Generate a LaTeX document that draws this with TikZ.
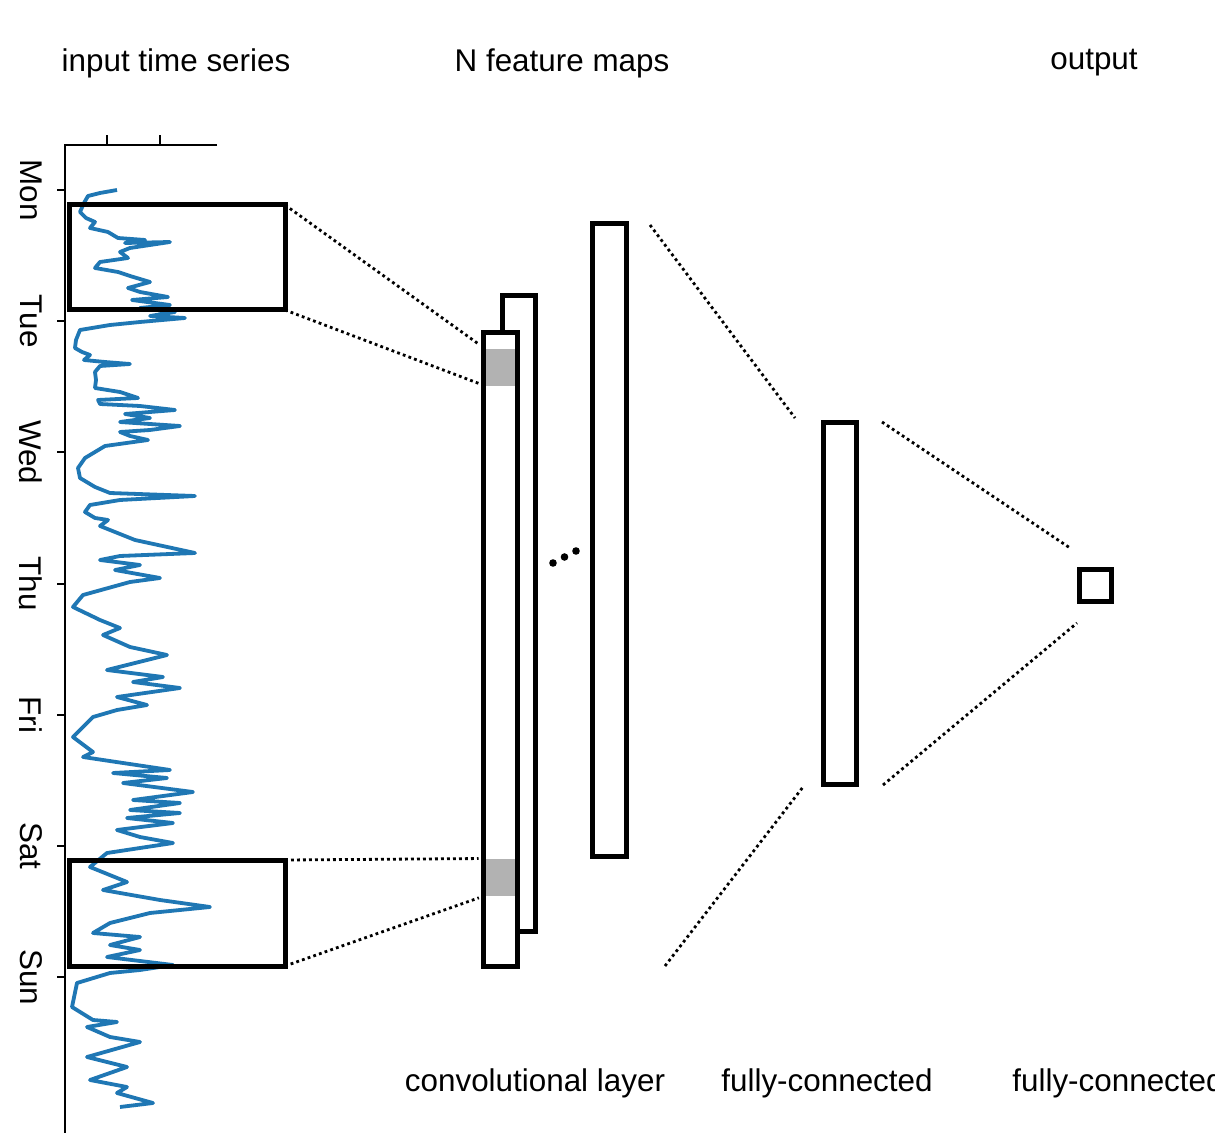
\documentclass[tikz,border=0pt]{standalone}
\usepackage{fontspec}
\setmainfont{Liberation Sans}
\definecolor{seriesblue}{RGB}{31,119,180}
\definecolor{cellgray}{RGB}{178,178,178}

\tikzset{
  conn/.style={line width=1.4pt, dash pattern=on 1.4pt off 1.6pt},
  toconv/.style={conn, shorten >=3.5pt},
  lbl/.style={font=\fontsize{15.7}{18}\selectfont, inner sep=0pt}
}

\begin{document}
\begin{tikzpicture}[x=0.5pt,y=-0.5pt]
    \path[use as bounding box, fill=white] (0,0) rectangle (1215,1133);

    % axis of the input series
    \draw[line width=1pt] (217,145) -- (65,145) -- (65,1133);
    \foreach \tx in {107,160}
      \draw[line width=1pt] (\tx,145) -- (\tx,135);
    \foreach \d [count=\i] in {Mon,Tue,Wed,Thu,Fri,Sat,Sun} {
      \draw[line width=1pt] (57,{190+(\i-1)*131.2}) -- (65,{190+(\i-1)*131.2});
      \node[lbl, rotate=-90] (day\i) at (31,{190+(\i-1)*131.2}) {\d};
    }

    % the series itself
    \draw[seriesblue, line width=1.9pt, line join=round] plot coordinates {
      (117,190) (100,193) (88,196) (84,203) (80,212) (86,218) (95,222) (90,228)
      (108,232) (118,238) (145,240) (125,243) (170,242) (130,248) (120,252)
      (128,258) (100,262) (95,268) (118,272) (130,276) (150,282) (128,288)
      (140,292) (168,297) (132,300) (170,305) (140,308) (175,312) (150,316)
      (185,318) (140,322) (110,325) (80,330) (76,340) (75,348) (82,352) (90,355)
      (84,360) (105,362) (130,364) (100,366) (95,372) (96,380) (95,388)
      (120,392) (138,398) (98,400) (100,404) (140,406) (175,410) (125,414)
      (150,418) (120,422) (180,426) (150,430) (120,432) (130,436) (148,440)
      (105,446) (95,452) (85,458) (78,468) (80,478) (95,487) (110,493)
      (195,496) (120,500) (90,505) (85,512) (95,518) (108,520) (100,526)
      (115,532) (135,540) (195,553) (120,556) (100,560) (140,565) (115,570)
      (160,578) (130,582) (83,595) (73,607) (100,620) (120,628) (103,635)
      (130,647) (167,655) (107,670) (163,677) (133,682) (180,688) (117,697)
      (147,705) (117,710) (93,717) (73,737) (93,752) (83,757) (123,763)
      (170,770) (113,773) (167,778) (123,783) (193,792) (133,800) (180,803)
      (130,810) (180,813) (127,818) (173,823) (117,830) (140,837) (173,843)
      (107,853) (90,867) (127,882) (103,890) (160,900) (210,907) (150,913)
      (110,923) (93,933) (140,937) (110,945) (140,950) (107,957) (173,965)
      (140,970) (110,973) (77,983) (72,1007) (93,1020) (117,1022) (87,1027)
      (110,1037) (140,1042) (87,1057) (127,1067) (90,1080) (127,1087)
      (117,1093) (153,1103) (120,1107)
    };

    \begin{scope}[every node/.style={draw, line width=2.5pt, inner sep=0pt, outer sep=0pt}]
      \node[minimum width=108pt, minimum height=52.5pt] (win1) at (177,257.5) {};
      \node[minimum width=108pt, minimum height=53pt] (win2) at (177,913) {};
      \node[fill=white, minimum width=16.5pt, minimum height=317.5pt] (conv2) at (518.5,613.5) {};
      \node[fill=white, minimum width=17pt, minimum height=316.5pt] (conv1) at (500,649.5) {};
      \node[fill=white, minimum width=17pt, minimum height=316pt] (fm) at (609,540) {};
      \node[fill=white, minimum width=16.5pt, minimum height=180.5pt] (fc) at (839.5,603.5) {};
      \node[fill=white, minimum width=16pt, minimum height=15.5pt] (out) at (1095,585.5) {};
    \end{scope}

    \begin{scope}[every node/.style={fill=cellgray, inner sep=0pt, outer sep=0pt,
        minimum width=14.5pt, minimum height=18.5pt}]
      \node (cell1) at (500,367.5) {};
      \node (cell2) at (500,877) {};
    \end{scope}

    % receptive fields
    \draw[toconv] (win1.north east) -- (cell1.north west);
    \draw[toconv] (win1.south east) -- (cell1.south west);
    \draw[toconv] (win2.north east) -- (cell2.north west);
    \draw[toconv] (win2.south east) -- (cell2.south west);

    % more feature maps
    \foreach \px/\py [count=\k] in {553/563, 564.5/557, 576/551}
      \fill (\px,\py) circle (1.9pt);

    \coordinate (fmA) at (650,225);
    \coordinate (fmB) at (665,966);
    \coordinate (fcA) at (795,418);
    \coordinate (fcB) at (803,787);
    \coordinate (fcC) at (882,422);
    \coordinate (fcD) at (883,785);
    \coordinate (outA) at (1070,548);
    \coordinate (outB) at (1077,623);
    \draw[conn] (fmA) -- (fcA);
    \draw[conn] (fmB) -- (fcB);
    \draw[conn] (fcC) -- (outA);
    \draw[conn] (fcD) -- (outB);

    \begin{scope}[every node/.style={lbl}]
      \node (tin) at (176,63) {input time series};
      \node (tfm) at (562,63) {N feature maps};
      \node (tout) at (1094,63) {output};
      \node (bconv) at (535,1083) {convolutional layer};
      \node (bfc) at (827,1083) {fully-connected};
      \node[anchor=west] (bout) at (1012,1083) {fully-connected};
    \end{scope}
\end{tikzpicture}
\end{document}
